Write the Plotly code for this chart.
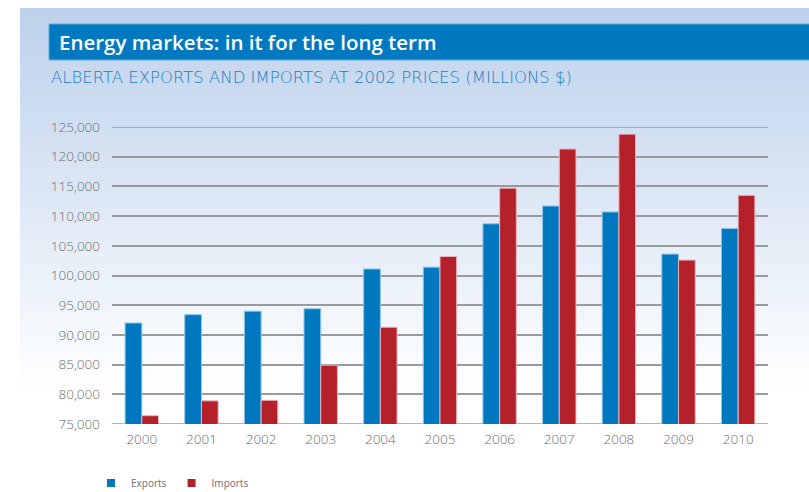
import plotly.graph_objects as go

years = ["2000", "2001", "2002", "2003", "2004", "2005", "2006", "2007", "2008", "2009", "2010"]
exports = [92000, 93400, 94000, 94400, 101100, 101400, 108700, 111700, 110700, 103600, 107900]
imports = [76400, 78900, 79000, 84900, 91300, 103200, 114700, 121300, 123800, 102600, 113500]
y_ticks = [75000, 80000, 85000, 90000, 95000, 100000, 105000, 110000, 115000, 120000, 125000]
y_tick_labels = [f"{v:,}" for v in y_ticks]

W, H = 809, 492
L, R, T, B = 112, 768, 127, 424  # plot area in pixels
EXP_COL, IMP_COL = "#0078BF", "#B5212B"
FONT = "Open Sans, sans-serif"
WIDE = "DejaVu Sans, sans-serif"


def px(x):
    return (x - L) / (R - L)


def py(y):
    return (B - y) / (B - T)


fig = go.Figure()
fig.add_trace(go.Bar(name="Exports", x=years, y=exports, legendgroup="e", showlegend=False,
                     marker=dict(color=EXP_COL, line=dict(color="#8CC3E6", width=1))))
fig.add_trace(go.Bar(name="Imports", x=years, y=imports, legendgroup="i", showlegend=False,
                     marker=dict(color=IMP_COL, line=dict(color="#E8B7C0", width=1))))
# legend entries with small square keys
fig.add_trace(go.Scatter(name="Exports", x=[None], y=[None], mode="markers", legendgroup="e",
                         marker=dict(symbol="square", size=8, color=EXP_COL)))
fig.add_trace(go.Scatter(name="Imports", x=[None], y=[None], mode="markers", legendgroup="i",
                         marker=dict(symbol="square", size=8, color=IMP_COL)))

shapes = []
# gradient background panel
top, bottom = 8, 396
n = 60
c0 = (189, 209, 236)
c1 = (255, 255, 255)
for i in range(n):
    y0 = top + (bottom - top) * i / n
    y1 = top + (bottom - top) * (i + 1) / n + 0.6
    t = i / (n - 1)
    col = tuple(round(c0[k] + (c1[k] - c0[k]) * t) for k in range(3))
    shapes.append(dict(type="rect", xref="paper", yref="paper", layer="below",
                       x0=px(20), x1=px(W + 2), y0=py(y0), y1=py(y1),
                       fillcolor=f"rgb{col}", line=dict(width=0)))
# title bar
shapes.append(dict(type="rect", xref="paper", yref="paper", layer="below",
                   x0=px(49), x1=px(W + 2), y0=py(24), y1=py(60),
                   fillcolor="#0079C1", line=dict(color="#5FA8DA", width=1)))
# axis edge lines (top grid line and baseline)
for v in (y_ticks[0], y_ticks[-1]):
    shapes.append(dict(type="line", xref="paper", yref="y", layer="below",
                       x0=0, x1=1, y0=v, y1=v, line=dict(color="#9a9a9c", width=1.5)))

fig.update_layout(
    width=W, height=H,
    margin=dict(l=L, r=W - R, t=T, b=H - B, autoexpand=False),
    paper_bgcolor="white", plot_bgcolor="rgba(0,0,0,0)",
    barmode="group", bargap=0.44, bargroupgap=0,
    font=dict(family=FONT, color="#6d6e71"),
    shapes=shapes,
    showlegend=True,
    legend=dict(orientation="h", x=px(91), y=py(483), xanchor="left", yanchor="middle",
                font=dict(size=10, color="#6d6e71"), itemwidth=30, tracegroupgap=0,
                bgcolor="rgba(0,0,0,0)"),
    xaxis=dict(range=[-0.5, 10.5], showgrid=False, ticks="", showline=False,
               ticklabelstandoff=5, tickfont=dict(size=13.5, color="#6d6e71", weight=300)),
    yaxis=dict(range=[75000, 125000], tickvals=y_ticks, ticktext=y_tick_labels,
               showgrid=True, gridcolor="#9a9a9c", gridwidth=1.5, zeroline=False,
               ticks="", ticklabelstandoff=11,
               tickfont=dict(size=13.5, color="#6d6e71", weight=300)),
    annotations=[
        dict(text="Energy markets: in it for the long term", xref="paper", yref="paper",
             x=px(57), y=py(42), xanchor="left", yanchor="middle", showarrow=False,
             font=dict(size=20.5, color="white", family=FONT, weight=600)),
        dict(text="ALBERTA EXPORTS AND IMPORTS AT 2002 PRICES (MILLIONS $)", xref="paper", yref="paper",
             x=px(49), y=py(77), xanchor="left", yanchor="middle", showarrow=False,
             font=dict(size=16.5, color="#1a7cc1", family=WIDE, weight=300)),
    ],
)

fig.write_html("out.html")
